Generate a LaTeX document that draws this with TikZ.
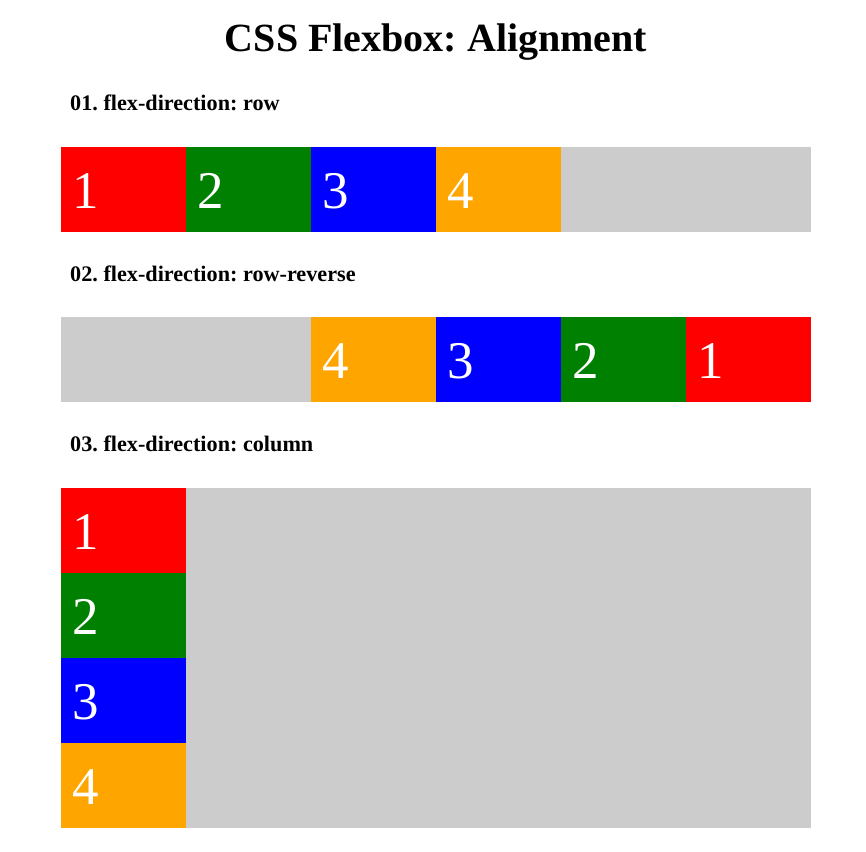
\documentclass[tikz,border=0pt]{standalone}
\usepackage{fontspec}
\setmainfont{Liberation Serif}
\frenchspacing
\definecolor{cred}{HTML}{FF0000}
\definecolor{cgreen}{HTML}{008000}
\definecolor{cblue}{HTML}{0000FF}
\definecolor{corange}{HTML}{FFA500}
\definecolor{cgray}{HTML}{CCCCCC}
\begin{document}
\begin{tikzpicture}[x=1pt,y=-1pt,
  container/.style={fill=cgray,draw=none,anchor=north west,inner sep=0pt,minimum width=750pt},
  item/.style={draw=none,anchor=north west,inner sep=0pt,minimum width=125pt,minimum height=85pt},
  num/.style={anchor=base west,inner sep=0pt,text=white,font=\fontsize{53}{60}\selectfont},
  heading/.style={anchor=base west,inner sep=0pt,font=\bfseries\fontsize{22.2}{26}\selectfont},
  title/.style={anchor=base,inner sep=0pt,font=\bfseries\fontsize{40}{46}\selectfont}]
\useasboundingbox (0,0) rectangle (866,851);
\fill[white] (0,0) rectangle (866,851);
\node[title] (t) at (436,52) {CSS Flexbox: Alignment};
% 01
\node[heading] (h1) at (70,110) {01. flex-direction: row};
\node[container,minimum height=85pt] (c1) at (61,147) {};
\node[item,fill=cred] (a1) at (61,147) {};
\node[item,fill=cgreen] (a2) at (186,147) {};
\node[item,fill=cblue] (a3) at (311,147) {};
\node[item,fill=corange] (a4) at (436,147) {};
\node[num] (n11) at (72,208) {1};
\node[num] (n12) at (197,208) {2};
\node[num] (n13) at (322,208) {3};
\node[num] (n14) at (447,208) {4};
% 02
\node[heading] (h2) at (70,281) {02. flex-direction: row-reverse};
\node[container,minimum height=85pt] (c2) at (61,317) {};
\node[item,fill=corange] (b4) at (311,317) {};
\node[item,fill=cblue] (b3) at (436,317) {};
\node[item,fill=cgreen] (b2) at (561,317) {};
\node[item,fill=cred] (b1) at (686,317) {};
\node[num] (n24) at (322,378) {4};
\node[num] (n23) at (447,378) {3};
\node[num] (n22) at (572,378) {2};
\node[num] (n21) at (697,378) {1};
% 03
\node[heading] (h3) at (70,451) {03. flex-direction: column};
\node[container,minimum height=340pt] (c3) at (61,488) {};
\node[item,fill=cred] (d1) at (61,488) {};
\node[item,fill=cgreen] (d2) at (61,573) {};
\node[item,fill=cblue] (d3) at (61,658) {};
\node[item,fill=corange] (d4) at (61,743) {};
\node[num] (n31) at (72,549) {1};
\node[num] (n32) at (72,634) {2};
\node[num] (n33) at (72,719) {3};
\node[num] (n34) at (72,804) {4};
\end{tikzpicture}
\end{document}
